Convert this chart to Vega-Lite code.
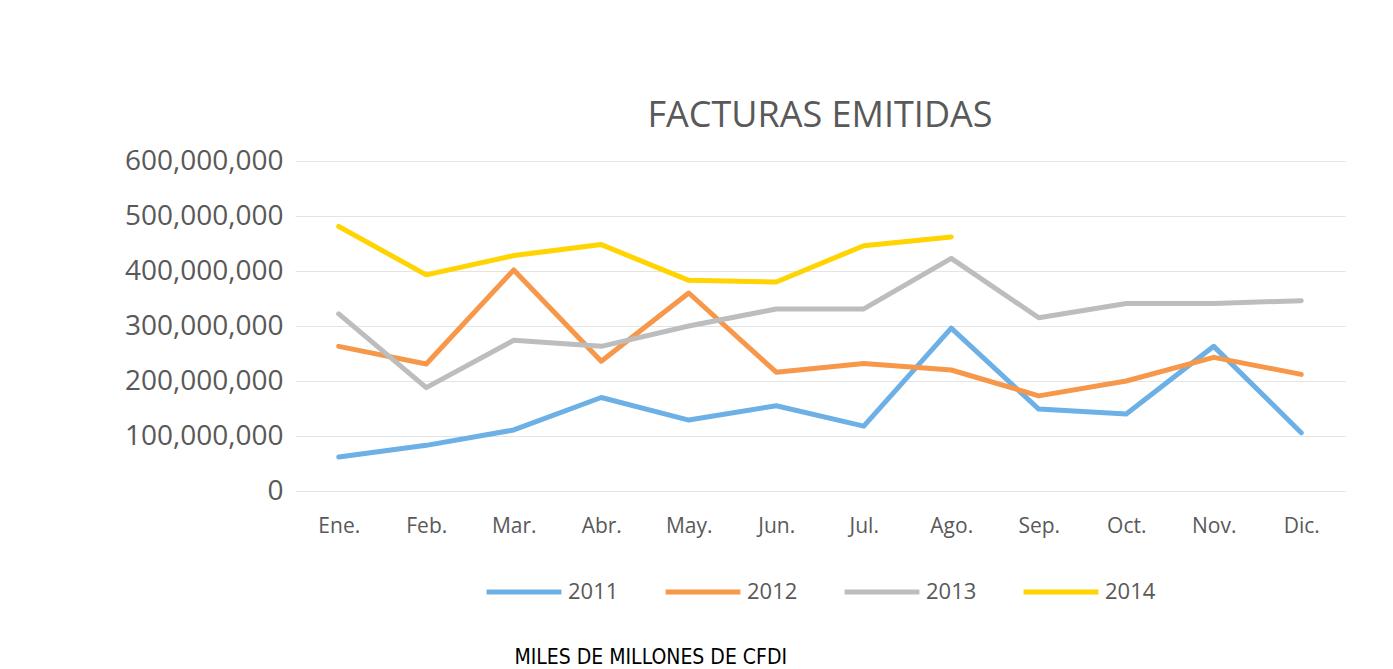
{
  "$schema": "https://vega.github.io/schema/vega-lite/v6.json",
  "background": "white",
  "padding": {"left": 124, "top": 98, "right": 40, "bottom": 0},
  "title": {
    "text": "MILES DE MILLONES DE CFDI",
    "orient": "bottom",
    "anchor": "middle",
    "dx": -84,
    "font": "Liberation Sans Narrow, DejaVu Sans Condensed, sans-serif",
    "fontSize": 21,
    "fontWeight": "normal",
    "color": "#000000",
    "offset": 44
  },
  "config": {
    "font": "Open Sans",
    "view": {"stroke": null},
    "axis": {"labelColor": "#595959", "labelFont": "Open Sans"},
    "legend": {"layout": {"bottom": {"anchor": "middle"}}}
  },
  "vconcat": [
    {
      "title": {
        "text": "FACTURAS EMITIDAS",
        "font": "Open Sans",
        "fontSize": 36,
        "fontWeight": "normal",
        "color": "#595959",
        "offset": 12
      },
      "width": 1050,
      "height": 330,
      "data": {
        "values": [
          {"mes": "Ene.", "anio": "2011", "valor": 62000000},
          {"mes": "Feb.", "anio": "2011", "valor": 83000000},
          {"mes": "Mar.", "anio": "2011", "valor": 111000000},
          {"mes": "Abr.", "anio": "2011", "valor": 170000000},
          {"mes": "May.", "anio": "2011", "valor": 129000000},
          {"mes": "Jun.", "anio": "2011", "valor": 155000000},
          {"mes": "Jul.", "anio": "2011", "valor": 118000000},
          {"mes": "Ago.", "anio": "2011", "valor": 296000000},
          {"mes": "Sep.", "anio": "2011", "valor": 149000000},
          {"mes": "Oct.", "anio": "2011", "valor": 140000000},
          {"mes": "Nov.", "anio": "2011", "valor": 263000000},
          {"mes": "Dic.", "anio": "2011", "valor": 106000000},
          {"mes": "Ene.", "anio": "2012", "valor": 263000000},
          {"mes": "Feb.", "anio": "2012", "valor": 231000000},
          {"mes": "Mar.", "anio": "2012", "valor": 402000000},
          {"mes": "Abr.", "anio": "2012", "valor": 236000000},
          {"mes": "May.", "anio": "2012", "valor": 360000000},
          {"mes": "Jun.", "anio": "2012", "valor": 216000000},
          {"mes": "Jul.", "anio": "2012", "valor": 232000000},
          {"mes": "Ago.", "anio": "2012", "valor": 220000000},
          {"mes": "Sep.", "anio": "2012", "valor": 173000000},
          {"mes": "Oct.", "anio": "2012", "valor": 200000000},
          {"mes": "Nov.", "anio": "2012", "valor": 243000000},
          {"mes": "Dic.", "anio": "2012", "valor": 212000000},
          {"mes": "Ene.", "anio": "2013", "valor": 322000000},
          {"mes": "Feb.", "anio": "2013", "valor": 188000000},
          {"mes": "Mar.", "anio": "2013", "valor": 274000000},
          {"mes": "Abr.", "anio": "2013", "valor": 263000000},
          {"mes": "May.", "anio": "2013", "valor": 300000000},
          {"mes": "Jun.", "anio": "2013", "valor": 331000000},
          {"mes": "Jul.", "anio": "2013", "valor": 331000000},
          {"mes": "Ago.", "anio": "2013", "valor": 423000000},
          {"mes": "Sep.", "anio": "2013", "valor": 315000000},
          {"mes": "Oct.", "anio": "2013", "valor": 341000000},
          {"mes": "Nov.", "anio": "2013", "valor": 341000000},
          {"mes": "Dic.", "anio": "2013", "valor": 346000000},
          {"mes": "Ene.", "anio": "2014", "valor": 481000000},
          {"mes": "Feb.", "anio": "2014", "valor": 393000000},
          {"mes": "Mar.", "anio": "2014", "valor": 428000000},
          {"mes": "Abr.", "anio": "2014", "valor": 448000000},
          {"mes": "May.", "anio": "2014", "valor": 383000000},
          {"mes": "Jun.", "anio": "2014", "valor": 380000000},
          {"mes": "Jul.", "anio": "2014", "valor": 446000000},
          {"mes": "Ago.", "anio": "2014", "valor": 462000000}
        ]
      },
      "mark": {"type": "line", "strokeWidth": 5, "strokeCap": "round", "strokeJoin": "round"},
      "encoding": {
        "x": {
          "field": "mes",
          "type": "ordinal",
          "sort": ["Ene.", "Feb.", "Mar.", "Abr.", "May.", "Jun.", "Jul.", "Ago.", "Sep.", "Oct.", "Nov.", "Dic."],
          "scale": {"type": "point", "padding": 0.5},
          "axis": {"title": null, "labelAngle": 0, "labelFontSize": 21, "labelPadding": 24, "ticks": false, "domain": false, "grid": false}
        },
        "y": {
          "field": "valor",
          "type": "quantitative",
          "scale": {"domain": [0, 600000000], "nice": false},
          "axis": {
            "title": null,
            "values": [0, 100000000, 200000000, 300000000, 400000000, 500000000, 600000000],
            "format": ",d",
            "labelFontSize": 28,
            "labelPadding": 12,
            "ticks": false,
            "domain": false,
            "gridColor": "#e4e4e4",
            "gridWidth": 1.2
          }
        },
        "color": {
          "field": "anio",
          "type": "nominal",
          "scale": {"domain": ["2011", "2012", "2013", "2014"], "range": ["#6cb0e6", "#f7974a", "#bdbdbd", "#ffd400"]},
          "legend": {
            "orient": "bottom",
            "direction": "horizontal",
            "title": null,
            "symbolType": "stroke",
            "symbolSize": 5600,
            "symbolStrokeWidth": 5,
            "labelFontSize": 22,
            "labelColor": "#595959",
            "labelOffset": 4,
            "columnPadding": 36,
            "offset": 16
          }
        }
      }
    }
  ]
}
